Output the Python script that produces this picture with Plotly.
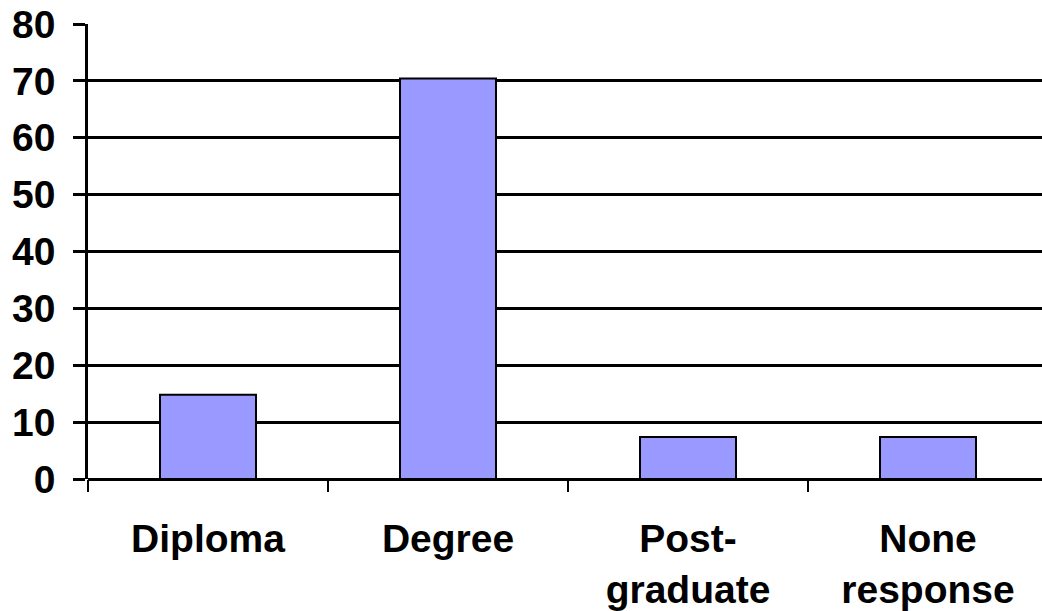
import plotly.graph_objects as go

categories = ["Diploma", "Degree", "Post-<br>graduate", "None<br>response"]
values = [14.8, 70.4, 7.4, 7.4]
y_ticks = [0, 10, 20, 30, 40, 50, 60, 70, 80]

font_family = "Arial, 'Liberation Sans', sans-serif"

fig = go.Figure(
    go.Bar(
        x=[f"<b>{c}</b>" for c in categories],
        y=values,
        width=0.4,
        marker=dict(color="#9999FF", line=dict(color="black", width=2)),
    )
)

fig.update_layout(
    width=1042,
    height=611,
    margin=dict(l=88, r=0, t=24, b=132),
    paper_bgcolor="white",
    plot_bgcolor="white",
    showlegend=False,
    font=dict(family=font_family, size=39, color="black"),
)

fig.update_xaxes(
    type="category",
    range=[-0.5, 3.475],
    tickson="boundaries",
    ticks="outside",
    ticklen=12,
    tickwidth=2,
    tickcolor="black",
    showgrid=False,
    showline=False,
    zeroline=False,
    ticklabelstandoff=33,
    tickfont=dict(family=font_family, size=39, color="black"),
)

fig.update_yaxes(
    range=[0, 80],
    tickmode="array",
    tickvals=y_ticks,
    ticktext=[f"<b>{t}</b>" for t in y_ticks],
    ticks="outside",
    ticklen=12,
    tickwidth=2.5,
    tickcolor="black",
    showgrid=True,
    gridcolor="black",
    gridwidth=2.5,
    zeroline=True,
    zerolinecolor="black",
    zerolinewidth=2.5,
    showline=True,
    linecolor="black",
    linewidth=2.5,
    ticklabelstandoff=10,
    tickfont=dict(family=font_family, size=39, color="black"),
)

fig.write_html("out.html")
